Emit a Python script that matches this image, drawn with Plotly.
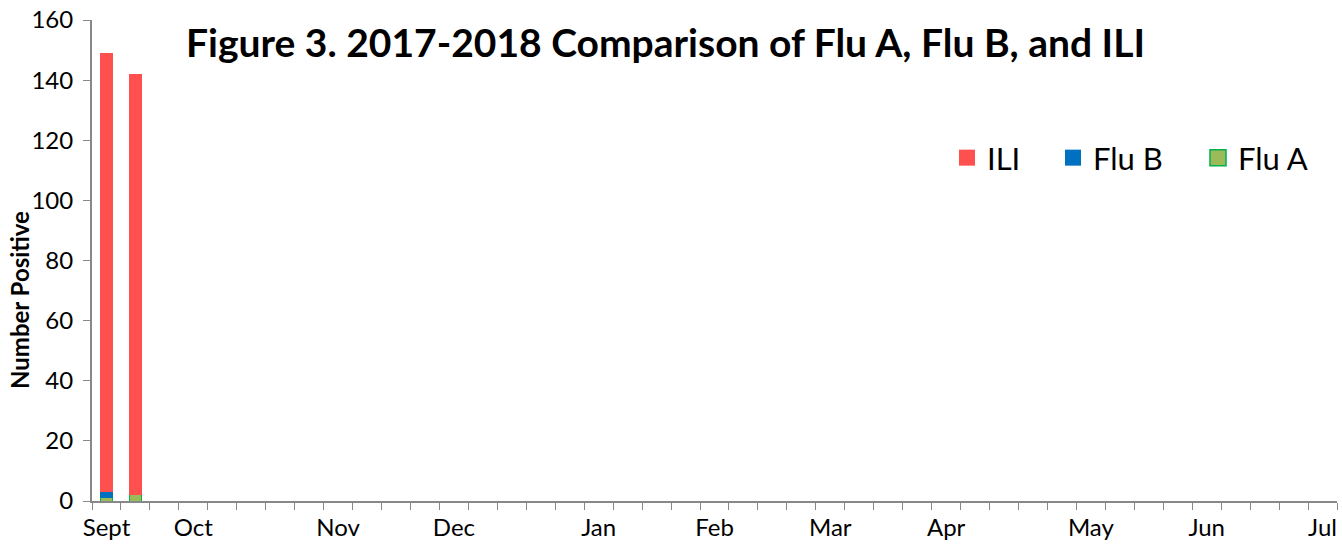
import plotly.graph_objects as go

weeks = [f"W{w}" for w in list(range(35, 53)) + list(range(1, 26))]
month_labels = ["Sept", "", "", "Oct", "", "", "", "", "Nov", "", "", "", "Dec", "", "", "", "",
                "Jan", "", "", "", "Feb", "", "", "", "Mar", "", "", "", "Apr", "", "", "", "",
                "May", "", "", "", "Jun", "", "", "", "Jul"]
flu_a = [1, 2] + [0] * 41
flu_b = [2, 0] + [0] * 41
ili = [146, 140] + [0] * 41

series = [("Flu A", flu_a, "#9BBB59", "#00B050"),
          ("Flu B", flu_b, "#0070C0", "#0070C0"),
          ("ILI", ili, "#FF5050", "#FF5050")]
legend_ids = {"ILI": "legend", "Flu B": "legend2", "Flu A": "legend3"}

FONT = "Lato, Open Sans, sans-serif"
W, H = 1342, 548
L, R, T, B = 92, 5, 20, 47
pw, ph = W - L - R, H - T - B

fig = go.Figure()
for name, vals, col, lc in series:
    fig.add_trace(go.Bar(x=weeks, y=vals, name=name, showlegend=False,
                         marker=dict(color=col, line=dict(color=lc, width=1 if name == "Flu A" else 0))))
for name, vals, col, lc in series:
    fig.add_trace(go.Scatter(x=[None], y=[None], mode="markers", name=name, legend=legend_ids[name],
                             marker=dict(symbol="square", size=22, color=col,
                                         line=dict(color=lc, width=1.5 if name == "Flu A" else 0))))

def leg(px_left):
    return dict(orientation="h", x=(px_left - L) / pw, xanchor="left", y=(H - B - 158) / ph, yanchor="middle",
                font=dict(size=31, family=FONT, color="black"), itemwidth=30, bgcolor="rgba(0,0,0,0)")

fig.update_layout(
    barmode="stack",
    bargap=0.58,
    width=W, height=H,
    margin=dict(l=L, r=R, t=T, b=B),
    plot_bgcolor="white", paper_bgcolor="white",
    font=dict(family=FONT, color="black"),
    showlegend=True,
    legend=leg(947), legend2=leg(1053), legend3=leg(1198),
    annotations=[
        dict(text="<b>Figure 3. 2017-2018 Comparison of Flu A, Flu B, and ILI</b>",
             xref="paper", yref="paper", x=(665 - L) / pw, y=(H - B - 42) / ph, xanchor="center", yanchor="middle",
             showarrow=False, font=dict(size=39, family=FONT, color="black")),
        dict(text="<b>Number Positive</b>", textangle=-90,
             xref="paper", yref="paper", x=(19 - L) / pw, y=(H - B - 300) / ph, xanchor="center", yanchor="middle",
             showarrow=False, font=dict(size=24, family=FONT, color="black")),
    ],
)
fig.update_xaxes(type="category", tickmode="array", tickvals=weeks, ticktext=month_labels,
                 tickson="boundaries", ticks="outside", ticklen=7, tickcolor="#888888", tickangle=0,
                 ticklabelstandoff=4, ticklabeloverflow="allow",
                 showline=True, linecolor="#888888", linewidth=2, showgrid=False, automargin=False,
                 tickfont=dict(size=24), range=[-0.5, 42.5])
fig.update_yaxes(range=[0, 160], dtick=20, ticks="outside", ticklen=7, tickcolor="#888888",
                 ticklabelstandoff=5, ticklabeloverflow="allow",
                 showline=True, linecolor="#888888", linewidth=2, showgrid=False, zeroline=False,
                 tickfont=dict(size=24), automargin=False)

fig.write_html("out.html", config={"displayModeBar": False},
               post_script="document.body.style.margin='0';")
